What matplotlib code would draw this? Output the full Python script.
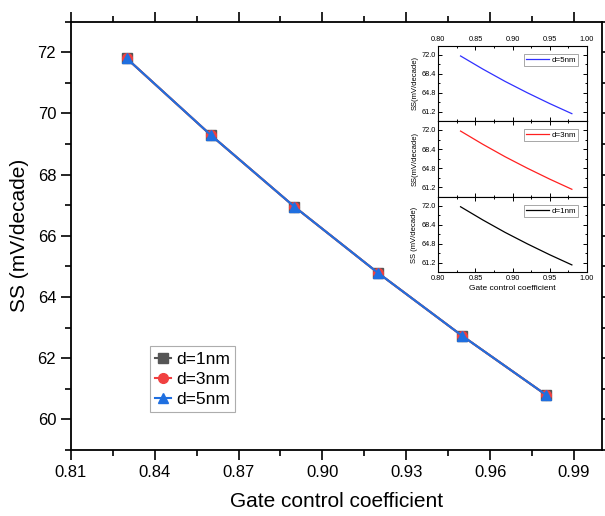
import matplotlib
matplotlib.use("Agg")
import matplotlib.pyplot as plt
from matplotlib.ticker import MultipleLocator, FixedLocator

plt.rcParams['font.family'] = ['Liberation Sans', 'DejaVu Sans']

gate_coeff = [0.83, 0.86, 0.89, 0.92, 0.95, 0.98]
ss_d1 = [71.80, 69.30, 66.95, 64.78, 62.73, 60.80]
ss_d3 = [71.80, 69.30, 66.95, 64.78, 62.73, 60.80]
ss_d5 = [71.80, 69.30, 66.95, 64.78, 62.73, 60.80]
labels = ['d=1nm', 'd=3nm', 'd=5nm']

fig = plt.figure(figsize=(6.05, 5.16), dpi=100)
ax = fig.add_axes([0.117, 0.128, 0.878, 0.830])

ax.plot(gate_coeff, ss_d1, color='#555555', marker='s', ms=7, lw=1.5, label=labels[0])
ax.plot(gate_coeff, ss_d3, color='#f04040', marker='o', ms=7, lw=1.5, label=labels[1])
ax.plot(gate_coeff, ss_d5, color='#1f6fe0', marker='^', ms=7.5, lw=1.5, label=labels[2])

ax.set_xlim(0.81, 1.0)
ax.set_ylim(59, 73)
ax.xaxis.set_major_locator(FixedLocator([0.81, 0.84, 0.87, 0.90, 0.93, 0.96, 0.99]))
ax.xaxis.set_minor_locator(FixedLocator([0.825, 0.855, 0.885, 0.915, 0.945, 0.975]))
ax.yaxis.set_major_locator(MultipleLocator(2))
ax.yaxis.set_minor_locator(MultipleLocator(1))
ax.set_xticklabels(['0.81', '0.84', '0.87', '0.90', '0.93', '0.96', '0.99'])
ax.tick_params(which='both', direction='out', top=True, right=True, labelsize=12, width=1.2)
ax.tick_params(which='major', length=7)
ax.tick_params(which='minor', length=4)
for s in ax.spines.values():
    s.set_linewidth(1.3)
ax.set_xlabel('Gate control coefficient', fontsize=15, labelpad=9)
ax.set_ylabel('SS (mV/decade)', fontsize=15, labelpad=6)
leg = ax.legend(loc='lower left', bbox_to_anchor=(0.149, 0.089), borderaxespad=0,
                fontsize=12.5, frameon=True, fancybox=False, edgecolor='#999999',
                handlelength=0.9, borderpad=0.3, labelspacing=0.28, handletextpad=0.3)
leg.get_frame().set_linewidth(0.8)

# inset
inset_colors = ['#3030ff', '#ff2020', '#000000']
inset_data = [ss_d5, ss_d3, ss_d1]
inset_labels = ['d=5nm', 'd=3nm', 'd=1nm']
inset_ylabels = ['SS(mV/decade)', 'SS(mV/decade)', 'SS (mV/decade)']
left, right = 438.3 / 605, 586.7 / 605
tops = [46, 121, 196.7]
bots = [121, 196.7, 272.3]
for i in range(3):
    b = 1 - bots[i] / 516
    h = (bots[i] - tops[i]) / 516
    iax = fig.add_axes([left, b, right - left, h])
    iax.plot(gate_coeff, inset_data[i], color=inset_colors[i], lw=0.9, label=inset_labels[i])
    iax.set_xlim(0.80, 1.00)
    iax.set_ylim(59.4, 73.7)
    iax.xaxis.set_major_locator(MultipleLocator(0.05))
    iax.xaxis.set_minor_locator(MultipleLocator(0.025))
    iax.yaxis.set_major_locator(FixedLocator([61.2, 64.8, 68.4, 72.0]))
    iax.yaxis.set_minor_locator(FixedLocator([63.0, 66.6, 70.2]))
    iax.yaxis.set_major_formatter(plt.FuncFormatter(lambda v, p: f'{v:.1f}'))
    iax.xaxis.set_major_formatter(plt.FuncFormatter(lambda v, p: f'{v:.2f}'))
    iax.tick_params(which='both', direction='in', top=True, right=True, labelsize=5.3, width=0.7,
                    labeltop=(i == 0), labelbottom=(i == 2), pad=2)
    iax.tick_params(which='major', length=3)
    iax.tick_params(which='minor', length=1.5)
    for s in iax.spines.values():
        s.set_linewidth(0.8)
    iax.set_ylabel(inset_ylabels[i], fontsize=5.5, labelpad=2)
    if i == 2:
        iax.set_xlabel('Gate control coefficient', fontsize=6, labelpad=2)
    lg = iax.legend(loc='upper right', fontsize=5.8, frameon=True, fancybox=False,
                    edgecolor='#666666', handlelength=2.8, borderpad=0.3, handletextpad=0.3,
                    bbox_to_anchor=(0.97, 0.95))
    lg.get_frame().set_linewidth(0.5)

fig.savefig('out.png', dpi=100)
